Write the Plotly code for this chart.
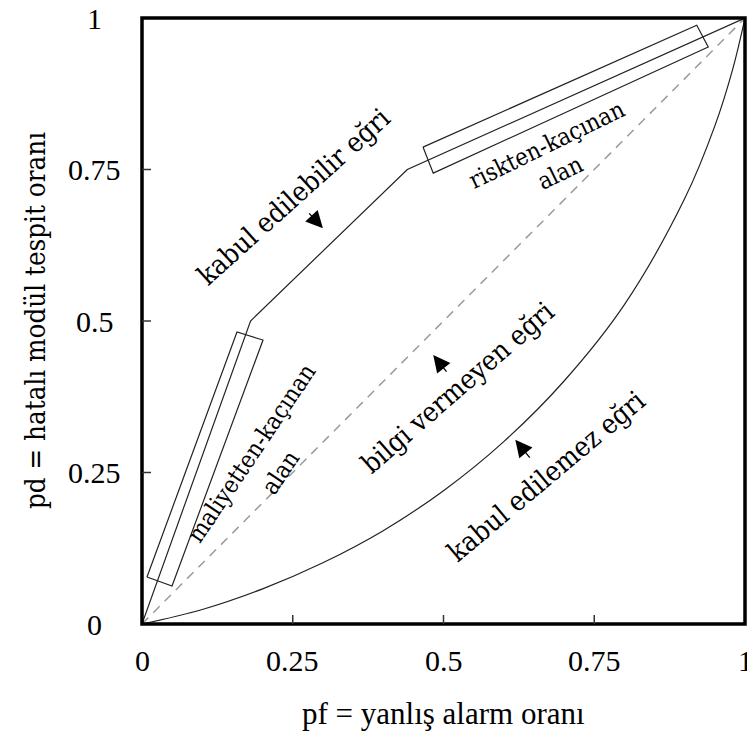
import plotly.graph_objects as go

# ---- data ----
tick_vals = [0, 0.25, 0.5, 0.75, 1]
tick_text = ["0", "0.25", "0.5", "0.75", "1"]

acc_x = [0, 0.18, 0.44, 1.0]
acc_y = [0, 0.50, 0.75, 1.0]

unacc_x = [0, 0.1, 0.2, 0.3, 0.4, 0.5, 0.6, 0.7, 0.8, 0.9, 0.95, 0.98, 1.0]
unacc_y = [0, 0.024, 0.058, 0.101, 0.154, 0.220, 0.301, 0.401, 0.527, 0.702, 0.822, 0.917, 1.0]

diag_x = [0, 1]
diag_y = [0, 1]

cost_box_x = [0.0083, 0.1575, 0.2007, 0.0498, 0.0083]
cost_box_y = [0.0776, 0.4818, 0.4686, 0.0627, 0.0776]

risk_box_x = [0.466, 0.920, 0.939, 0.483, 0.466]
risk_box_y = [0.787, 0.988, 0.952, 0.744, 0.787]

# labels: text, x, y, angle, size
labels = [
    ("kabul edilebilir eğri", 0.251, 0.707, -42, 27.5),
    ("bilgi vermeyen eğri", 0.523, 0.391, -41, 27.5),
    ("kabul edilemez eğri", 0.669, 0.245, -40, 27.5),
    ("maliyetten-kaçınan", 0.182, 0.282, -56, 24),
    ("alan", 0.2305, 0.251, -56, 24),
    ("riskten-kaçınan", 0.671, 0.790, -26, 24),
    ("alan", 0.6935, 0.744, -26, 24),
]

# arrows: tail (ax, ay) -> head (x, y)
arrows = [
    (0.275, 0.680, 0.300, 0.653),
    (0.507, 0.414, 0.483, 0.444),
    (0.645, 0.272, 0.619, 0.304),
]

FONT = "Liberation Serif"
ROT_FONT = "DejaVu Serif Condensed"

fig = go.Figure()
line_style = dict(color="#222222", width=1.2)
fig.add_trace(go.Scatter(x=diag_x, y=diag_y, mode="lines",
                         line=dict(color="#9a9a9a", width=1.5, dash="9px,7px")))
fig.add_trace(go.Scatter(x=acc_x, y=acc_y, mode="lines", line=line_style))
fig.add_trace(go.Scatter(x=unacc_x, y=unacc_y, mode="lines",
                         line=dict(color="#222222", width=1.2, shape="spline", smoothing=1.0)))
fig.add_trace(go.Scatter(x=cost_box_x, y=cost_box_y, mode="lines", line=line_style))
fig.add_trace(go.Scatter(x=risk_box_x, y=risk_box_y, mode="lines", line=line_style))

annotations = []
for txt, x, y, ang, size in labels:
    annotations.append(dict(text=txt, x=x, y=y, xref="x", yref="y", textangle=ang,
                            showarrow=False, xanchor="center", yanchor="middle",
                            font=dict(family=ROT_FONT, size=size, color="black")))
for ax, ay, x, y in arrows:
    annotations.append(dict(text="", x=x, y=y, ax=ax, ay=ay, xref="x", yref="y",
                            axref="x", ayref="y", showarrow=True, arrowhead=2,
                            arrowsize=2.6, arrowwidth=1.3, arrowcolor="black"))
# tick labels
for v, t in zip(tick_vals, tick_text):
    annotations.append(dict(text=t, x=v, y=-0.061, xref="x", yref="paper",
                            showarrow=False, xanchor="center", yanchor="middle",
                            font=dict(family=FONT, size=30, color="black")))
    annotations.append(dict(text=t, x=-0.078, y=v, xref="paper", yref="y",
                            showarrow=False, xanchor="center", yanchor="middle",
                            font=dict(family=FONT, size=30, color="black")))
# axis titles
annotations.append(dict(text="pf = yanlış alarm oranı", x=0.5, y=-0.147, xref="paper",
                        yref="paper", showarrow=False, xanchor="center", yanchor="middle",
                        font=dict(family=FONT, size=31, color="black")))
annotations.append(dict(text="pd = hatalı modül tespit oranı", x=-0.1774, y=0.5,
                        xref="paper", yref="paper", textangle=-90, showarrow=False,
                        xanchor="center", yanchor="middle",
                        font=dict(family=ROT_FONT, size=27.5, color="black")))

shapes = [dict(type="rect", xref="paper", yref="paper", x0=0, x1=1, y0=0, y1=1,
               line=dict(color="black", width=3.5), layer="above")]
for v in tick_vals[1:-1]:
    shapes.append(dict(type="line", xref="x", yref="y", x0=v, x1=v, ysizemode="pixel",
                       yanchor=0, y0=-9, y1=9, line=dict(color="#333333", width=1.5)))
    shapes.append(dict(type="line", xref="x", yref="y", y0=v, y1=v, xsizemode="pixel",
                       xanchor=0, x0=-9, x1=9, line=dict(color="#333333", width=1.5)))

fig.update_layout(
    width=747, height=733,
    margin=dict(l=142, r=2, t=18, b=109),
    paper_bgcolor="white", plot_bgcolor="white",
    showlegend=False,
    font=dict(family=FONT),
    xaxis=dict(range=[0, 1], showgrid=False, zeroline=False, showticklabels=False,
               ticks="", showline=False, fixedrange=True),
    yaxis=dict(range=[0, 1], showgrid=False, zeroline=False, showticklabels=False,
               ticks="", showline=False, fixedrange=True),
    annotations=annotations,
    shapes=shapes,
)
fig.write_html("out.html")
